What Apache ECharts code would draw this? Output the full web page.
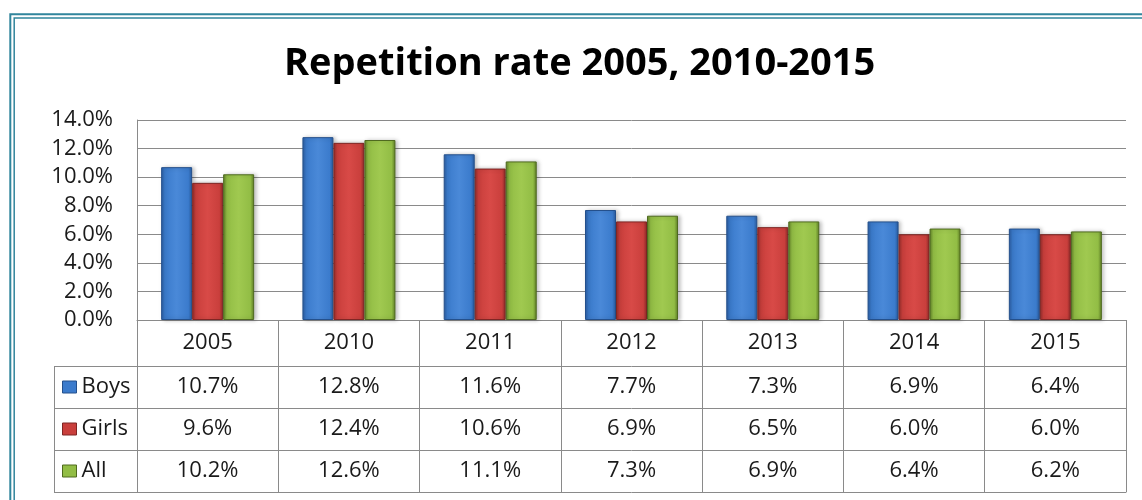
<!DOCTYPE html>
<html>
<head>
<meta charset="utf-8">
<script src="https://cdn.jsdelivr.net/npm/echarts@6/dist/echarts.min.js"></script>
<style>
html,body{margin:0;padding:0;background:#fff;}
#c{width:1142px;height:500px;}
</style>
</head>
<body>
<div id="c"></div>
<script>
var categories = ['2005', '2010', '2011', '2012', '2013', '2014', '2015'];
var boys  = [10.7, 12.8, 11.6, 7.7, 7.3, 6.9, 6.4];
var girls = [9.6, 12.4, 10.6, 6.9, 6.5, 6.0, 6.0];
var all   = [10.2, 12.6, 11.1, 7.3, 6.9, 6.4, 6.2];
var yTicks = { min: 0, max: 14, interval: 2 };
var seriesNames = ['Boys', 'Girls', 'All'];

var FONT = '"Open Sans", "Noto Sans", sans-serif';
var GRAY = '#8a8a8a';
var TEAL = '#31859c';

function pct(v) { return v.toFixed(1) + '%'; }

function barGrad(dark, base, light) {
  return new echarts.graphic.LinearGradient(0, 0, 1, 0, [
    { offset: 0, color: dark },
    { offset: 0.12, color: base },
    { offset: 0.5, color: light },
    { offset: 0.88, color: base },
    { offset: 1, color: dark }
  ]);
}
var styles = [
  { fill: barGrad('#2a5b9e', '#3b7bcc', '#4a89d8'), border: '#24508c', legend: '#3b7bcc' },
  { fill: barGrad('#8f2b29', '#c93f3c', '#d84a47'), border: '#7f2624', legend: '#c93f3c' },
  { fill: barGrad('#5e7d25', '#92bd45', '#a0c950'), border: '#4f6a1f', legend: '#92bd45' }
];
var datas = [boys, girls, all];

var tableRows = [boys, girls, all];
var xAxes = [{
  type: 'category',
  data: categories,
  position: 'bottom',
  axisLine: { show: true, lineStyle: { color: GRAY, width: 1 } },
  axisTick: { show: true, length: 172, lineStyle: { color: GRAY, width: 1 } },
  axisLabel: { margin: 23, fontSize: 22, fontFamily: FONT, color: '#1a1a1a', verticalAlign: 'middle', lineHeight: 22 },
  splitLine: { show: false }
}];
var offsets = [46, 88, 130];
tableRows.forEach(function (row, r) {
  xAxes.push({
    type: 'category',
    data: categories,
    position: 'bottom',
    offset: offsets[r],
    axisLine: { show: true, lineStyle: { color: GRAY, width: 1 } },
    axisTick: { show: false },
    axisLabel: {
      margin: 21, fontSize: 22, fontFamily: FONT, color: '#1a1a1a', verticalAlign: 'middle', lineHeight: 22,
      formatter: function (v, i) { return pct(row[i]); }
    }
  });
});
xAxes.push({
  type: 'category',
  data: categories,
  position: 'bottom',
  offset: 172,
  axisLine: { show: true, lineStyle: { color: GRAY, width: 1 } },
  axisTick: { show: false },
  axisLabel: { show: false }
});

var series = seriesNames.map(function (name, k) {
  return {
    name: name,
    type: 'bar',
    xAxisIndex: 0,
    data: datas[k],
    barWidth: 31,
    barGap: '0%',
    itemStyle: {
      color: styles[k].fill,
      borderColor: styles[k].border,
      borderWidth: 1,
      shadowColor: 'rgba(0,0,0,0.25)',
      shadowBlur: 4,
      shadowOffsetX: 2,
      shadowOffsetY: 0
    }
  };
});

var chart = echarts.init(document.getElementById('c'), null, { renderer: 'canvas' });
chart.setOption({
  animation: false,
  color: styles.map(function (s) { return s.legend; }),
  title: {
    text: 'Repetition rate 2005, 2010-2015',
    left: 284,
    top: 45,
    padding: 0,
    textStyle: { fontFamily: FONT, fontWeight: 'bold', fontSize: 38, color: '#000' }
  },
  legend: {
    orient: 'vertical',
    left: 62,
    top: 376,
    padding: 0,
    itemGap: 20,
    itemWidth: 14,
    itemHeight: 12,
    icon: 'rect',
    selectedMode: false,
    textStyle: { fontFamily: FONT, fontSize: 22, color: '#1a1a1a', lineHeight: 22 },
    data: seriesNames.map(function (n, k) { return { name: n, itemStyle: { color: styles[k].legend, borderColor: styles[k].border, borderWidth: 1 } }; })
  },
  grid: { left: 137, right: 16, top: 120, bottom: 180, containLabel: false },
  xAxis: xAxes,
  yAxis: {
    type: 'value',
    min: yTicks.min,
    max: yTicks.max,
    interval: yTicks.interval,
    axisLine: { show: true, lineStyle: { color: GRAY, width: 1 } },
    axisTick: { show: false },
    splitLine: { show: true, lineStyle: { color: GRAY, width: 1 } },
    axisLabel: { margin: 24, fontSize: 22, fontFamily: FONT, color: '#1a1a1a', formatter: function (v) { return pct(v); } }
  },
  series: series,
  graphic: [
    { type: 'rect', shape: { x: 10.3, y: 14.3, width: 1300, height: 700 }, style: { fill: 'none', stroke: TEAL, lineWidth: 2 }, silent: true },
    { type: 'rect', shape: { x: 14.2, y: 17.9, width: 1300, height: 700 }, style: { fill: 'none', stroke: TEAL, lineWidth: 1.5 }, silent: true },
    { type: 'line', shape: { x1: 54.5, y1: 366, x2: 54.5, y2: 492.5 }, style: { stroke: GRAY, lineWidth: 1 }, silent: true },
    { type: 'line', shape: { x1: 54, y1: 366.5, x2: 138, y2: 366.5 }, style: { stroke: GRAY, lineWidth: 1 }, silent: true },
    { type: 'line', shape: { x1: 54, y1: 408.5, x2: 138, y2: 408.5 }, style: { stroke: GRAY, lineWidth: 1 }, silent: true },
    { type: 'line', shape: { x1: 54, y1: 450.5, x2: 138, y2: 450.5 }, style: { stroke: GRAY, lineWidth: 1 }, silent: true },
    { type: 'line', shape: { x1: 54, y1: 492.5, x2: 138, y2: 492.5 }, style: { stroke: GRAY, lineWidth: 1 }, silent: true }
  ]
});
</script>
</body>
</html>
